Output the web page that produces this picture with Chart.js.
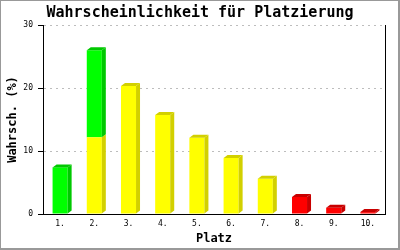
<!DOCTYPE html>
<html>
<head>
<meta charset="utf-8">
<script src="https://cdn.jsdelivr.net/npm/chart.js@4/dist/chart.umd.min.js"></script>
<style>
  body { margin: 0; background: #fff; }
  canvas { display: block; }
</style>
</head>
<body>
<canvas id="platzChart" width="400" height="250"></canvas>
<script>
// Daten
const platzLabels = ['1.', '2.', '3.', '4.', '5.', '6.', '7.', '8.', '9.', '10.'];
const gelbWerte = [null, 12.2, 20.3, 15.7, 12.1, 8.9, 5.6, null, null, null];
const gruenWerte = [7.4, 13.8, null, null, null, null, null, null, null, null];
const rotWerte = [null, null, null, null, null, null, null, 2.7, 1.0, 0.3];
const yTicks = [0, 10, 20, 30];

// Farben: Vorderseite / Seite
const frontFarben = ['#ffff00', '#00ff00', '#ff0000'];
const seitenFarben = ['#d2d000', '#00c800', '#c80000'];

const monoFont = '"DejaVu Sans Mono", "Liberation Mono", monospace';
const tiefeX = 4, tiefeY = 3;

// 3D-Effekt: Seite und Deckel fuer jede Saeule
const bar3d = {
  id: 'bar3d',
  afterDatasetsDraw(chart) {
    const ctx = chart.ctx;
    const sets = chart.data.datasets;
    // oberstes Segment pro Platz
    const oben = platzLabels.map((_, i) => {
      let t = -1;
      sets.forEach((ds, d) => { if (ds.data[i]) t = d; });
      return t;
    });
    ctx.save();
    sets.forEach((ds, d) => {
      const meta = chart.getDatasetMeta(d);
      meta.data.forEach((bar, i) => {
        if (!ds.data[i]) return;
        const p = bar.getProps(['x', 'y', 'base', 'width'], true);
        const l = p.x - p.width / 2, r = p.x + p.width / 2;
        ctx.fillStyle = seitenFarben[d];
        ctx.beginPath();
        ctx.moveTo(r, p.y);
        ctx.lineTo(r + tiefeX, p.y - tiefeY);
        ctx.lineTo(r + tiefeX, p.base - tiefeY);
        ctx.lineTo(r, p.base);
        ctx.closePath();
        ctx.fill();
        if (oben[i] === d) {
          ctx.beginPath();
          ctx.moveTo(l, p.y);
          ctx.lineTo(l + tiefeX, p.y - tiefeY);
          ctx.lineTo(r + tiefeX, p.y - tiefeY);
          ctx.lineTo(r, p.y);
          ctx.closePath();
          ctx.fill();
        }
      });
    });
    ctx.restore();
  }
};

// Hintergrund und grauer Rahmen
const rahmen = {
  id: 'rahmen',
  beforeDraw(chart) {
    const ctx = chart.ctx;
    ctx.save();
    ctx.fillStyle = '#fff';
    ctx.fillRect(0, 0, chart.width, chart.height);
    ctx.restore();
  },
  afterDraw(chart) {
    const ctx = chart.ctx;
    ctx.save();
    ctx.fillStyle = '#999';
    ctx.fillRect(0, 0, chart.width, 1);
    ctx.fillRect(0, 0, 1, chart.height);
    ctx.fillRect(chart.width - 2, 0, 2, chart.height);
    ctx.fillRect(0, chart.height - 2, chart.width, 2);
    ctx.restore();
  }
};

new Chart(document.getElementById('platzChart'), {
  type: 'bar',
  data: {
    labels: platzLabels,
    datasets: [
      { data: gelbWerte, backgroundColor: frontFarben[0] },
      { data: gruenWerte, backgroundColor: frontFarben[1] },
      { data: rotWerte, backgroundColor: frontFarben[2] }
    ]
  },
  options: {
    responsive: false,
    animation: false,
    devicePixelRatio: 1,
    layout: { padding: 0 },
    datasets: { bar: { categoryPercentage: 0.8, barPercentage: 0.55, borderWidth: 0 } },
    plugins: {
      legend: { display: false },
      tooltip: { enabled: false },
      title: {
        display: true,
        text: 'Wahrscheinlichkeit für Platzierung',
        color: '#000',
        font: { family: monoFont, size: 15, weight: 'bold', lineHeight: 1.2 },
        padding: { top: 4, bottom: 3 }
      }
    },
    scales: {
      x: {
        stacked: true,
        grid: { display: false, drawTicks: false },
        border: { color: '#000', width: 1 },
        ticks: { color: '#000', font: { family: monoFont, size: 8 }, padding: 5 },
        title: {
          display: true,
          text: 'Platz',
          color: '#000',
          font: { family: monoFont, size: 12, weight: 'bold' },
          padding: { top: 0, bottom: 4 }
        },
        afterFit(scale) { scale.height = 36; }
      },
      y: {
        stacked: true,
        min: 0,
        max: 30,
        afterBuildTicks(scale) { scale.ticks = yTicks.map(v => ({ value: v })); },
        grid: {
          color: ctx => (ctx.tick && ctx.tick.value === 0) ? 'rgba(0,0,0,0)' : '#bdbdbd',
          tickColor: '#000',
          tickLength: 5,
          tickBorderDash: []
        },
        border: { color: '#000', width: 1, dash: [2, 4] },
        ticks: { color: '#000', font: { family: monoFont, size: 8 }, padding: 5 },
        title: {
          display: true,
          text: 'Wahrsch. (%)',
          color: '#000',
          font: { family: monoFont, size: 12, weight: 'bold' },
          padding: { top: 6, bottom: 0 }
        },
        afterFit(scale) { scale.width = 43; }
      },
      yRechts: {
        position: 'right',
        display: true,
        min: 0,
        max: 30,
        grid: { display: false, drawTicks: false },
        border: { display: true, color: '#000', width: 1 },
        ticks: { display: false },
        afterFit(scale) { scale.width = 15; }
      }
    }
  },
  plugins: [bar3d, rahmen]
});
</script>
</body>
</html>
